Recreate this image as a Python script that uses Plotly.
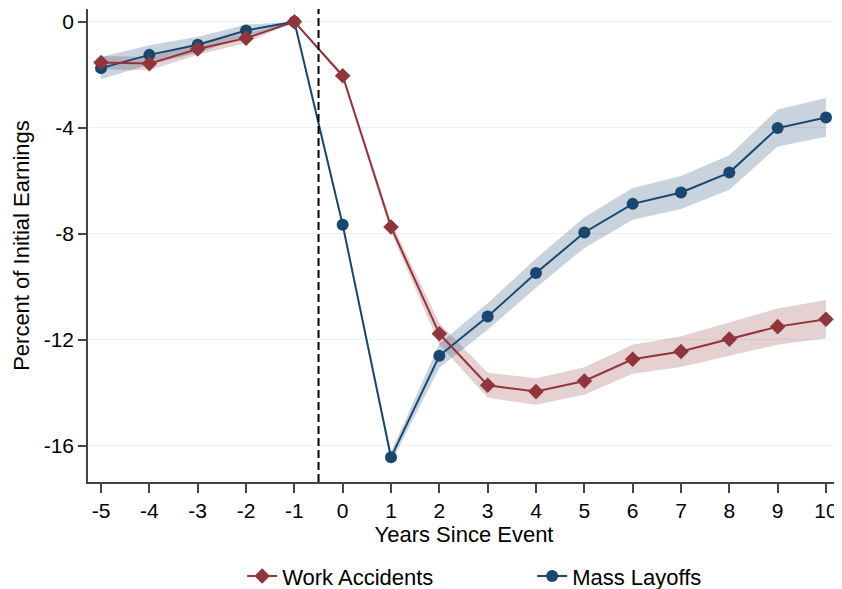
import plotly.graph_objects as go

years = list(range(-5, 11))
wa = [-1.54, -1.58, -1.03, -0.62, 0.0, -2.04, -7.74, -11.77, -13.71, -13.95, -13.55, -12.73, -12.44, -11.97, -11.50, -11.22]
wa_lo = [-1.79, -1.83, -1.25, -0.80, 0.0, -2.14, -7.94, -12.17, -14.18, -14.45, -14.07, -13.28, -13.02, -12.59, -12.18, -11.94]
wa_hi = [-1.29, -1.33, -0.81, -0.44, 0.0, -1.94, -7.54, -11.37, -13.24, -13.45, -13.03, -12.18, -11.86, -11.35, -10.82, -10.50]
ml = [-1.75, -1.25, -0.87, -0.33, 0.0, -7.66, -16.43, -12.60, -11.12, -9.48, -7.95, -6.87, -6.44, -5.69, -4.01, -3.61]
ml_lo = [-2.17, -1.61, -1.17, -0.55, 0.0, -7.76, -16.63, -13.05, -11.62, -10.03, -8.53, -7.47, -7.06, -6.34, -4.71, -4.34]
ml_hi = [-1.33, -0.89, -0.57, -0.11, 0.0, -7.56, -16.23, -12.15, -10.62, -8.93, -7.37, -6.27, -5.82, -5.04, -3.31, -2.88]

x_ticks = list(range(-5, 11))
y_ticks = [0, -4, -8, -12, -16]
event_line = -0.5

RED = "#90353B"
BLUE = "#1A476F"
RED_BAND = "rgba(144,53,59,0.23)"
BLUE_BAND = "rgba(26,71,111,0.24)"
FONT = "Liberation Sans, Arial, sans-serif"

fig = go.Figure()

def band(lo, hi, color):
    fig.add_trace(go.Scatter(x=years, y=hi, mode="lines", line=dict(width=0),
                             showlegend=False, hoverinfo="skip"))
    fig.add_trace(go.Scatter(x=years, y=lo, mode="lines", line=dict(width=0),
                             fill="tonexty", fillcolor=color,
                             showlegend=False, hoverinfo="skip"))

band(wa_lo, wa_hi, RED_BAND)
band(ml_lo, ml_hi, BLUE_BAND)

fig.add_trace(go.Scatter(x=years, y=ml, mode="lines+markers", name="Mass Layoffs",
                         line=dict(color=BLUE, width=2),
                         marker=dict(symbol="circle", size=12, color=BLUE)))
fig.add_trace(go.Scatter(x=years, y=wa, mode="lines+markers", name="Work Accidents",
                         line=dict(color=RED, width=2),
                         marker=dict(symbol="diamond", size=12, color=RED)))

fig.add_vline(x=event_line, line=dict(color="black", width=2, dash="8px,4px"))

fig.update_layout(
    width=834, height=581,
    margin=dict(l=80, r=2, t=1, b=107, autoexpand=False),
    paper_bgcolor="white", plot_bgcolor="white",
    font=dict(family=FONT, size=21, color="black"),
    showlegend=True,
    legend=dict(orientation="h", x=0.205, xanchor="left", y=-0.199, yanchor="middle",
                traceorder="reversed", font=dict(size=22), entrywidth=245,
                bgcolor="rgba(0,0,0,0)"),
    xaxis=dict(range=[-5.27, 10.29], tickmode="array", tickvals=x_ticks,
               ticktext=[str(v) for v in x_ticks], automargin=False,
               showgrid=False, zeroline=False, showline=True, linecolor="#444",
               linewidth=1.5, ticks="outside", ticklen=9, tickcolor="#444", tickwidth=1.5,
               title=dict(text="Years Since Event", font=dict(size=22), standoff=1)),
    yaxis=dict(range=[-17.36, 0.48], tickmode="array", tickvals=y_ticks,
               ticktext=[str(v) for v in y_ticks], automargin=False,
               showgrid=True, gridcolor="#EAF2F3", gridwidth=1.2,
               zeroline=False, showline=True, linecolor="#444", linewidth=1.5,
               ticks="outside", ticklen=8, tickcolor="#444", tickwidth=1.5,
               title=dict(text="Percent of Initial Earnings", font=dict(size=22), standoff=8)),
)

fig.write_html("out.html")
